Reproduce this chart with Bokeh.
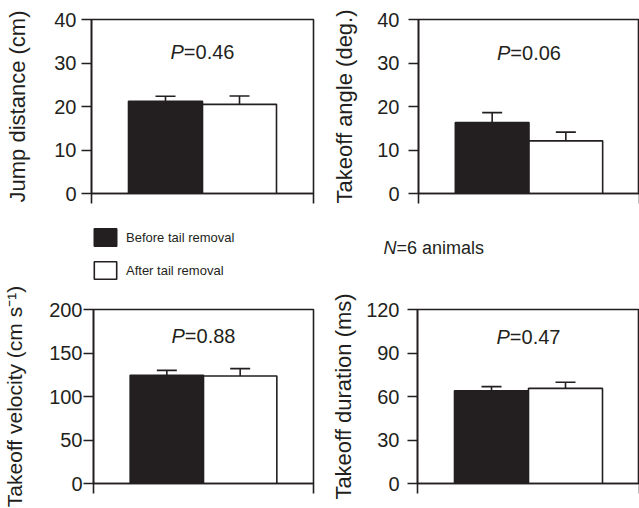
from bokeh.plotting import figure
from bokeh.models import (Range1d, FixedTicker, Whisker, TeeHead, ColumnDataSource,
                          Label, Legend, LegendItem)
from bokeh.layouts import column, row
from bokeh.embed import file_html
from bokeh.resources import INLINE

# ---------------- data ----------------
groups = ["Before tail removal", "After tail removal"]
group_pos = [1, 2]
bar_colors = ["#231f20", "#ffffff"]

y_labels = ["Jump distance (cm)", "Takeoff angle (deg.)",
            "Takeoff velocity (cm s\u207b\u00b9)", "Takeoff duration (ms)"]
y_max = [40, 40, 200, 120]
y_ticks = [[0, 10, 20, 30, 40], [0, 10, 20, 30, 40],
           [0, 50, 100, 150, 200], [0, 30, 60, 90, 120]]
mean_before = [21.2, 16.3, 124.3, 64.0]
mean_after = [20.5, 12.1, 123.5, 65.6]
sem_before = [1.15, 2.3, 5.7, 2.8]
sem_after = [1.9, 2.0, 8.5, 4.2]
p_values = ["0.46", "0.06", "0.88", "0.47"]
n_animals = 6

INK = "#231f20"
FONT = "Liberation Sans"
LW = 1.6


def make_panel(i, width, height, mb_left, mb_right, mb_top, mb_bottom, p_frac,
               tick_standoff, label_standoff, label_size="22px"):
    p = figure(width=width, height=height, output_backend="svg", toolbar_location=None,
               title=None,
               x_range=Range1d(0, 3), y_range=Range1d(0, y_max[i]),
               min_border_left=mb_left, min_border_right=mb_right,
               min_border_top=mb_top, min_border_bottom=mb_bottom)
    p.grid.visible = False
    p.outline_line_color = INK
    p.outline_line_width = LW
    p.outline_line_alpha = 1
    p.background_fill_color = "white"
    p.border_fill_color = "white"

    ya = p.yaxis[0]
    ya.ticker = FixedTicker(ticks=y_ticks[i])
    ya.minor_tick_line_color = None
    ya.major_tick_out = 10
    ya.major_tick_in = 0
    ya.major_tick_line_width = LW
    ya.major_tick_line_color = INK
    ya.axis_line_width = LW
    ya.axis_line_color = INK
    ya.major_label_text_font = FONT
    ya.major_label_text_font_size = "20px"
    ya.major_label_text_color = INK
    ya.major_label_standoff = tick_standoff
    ya.axis_label = y_labels[i]
    ya.axis_label_text_font = FONT
    ya.axis_label_text_font_size = label_size
    ya.axis_label_text_font_style = "normal"
    ya.axis_label_text_color = INK
    ya.axis_label_standoff = label_standoff

    # x axis: no labels, only end ticks (as minor ticks) hanging below
    xa = p.xaxis[0]
    xa.ticker = FixedTicker(ticks=[], minor_ticks=[0, 3])
    xa.major_tick_line_color = None
    xa.minor_tick_out = 10
    xa.minor_tick_in = 0
    xa.minor_tick_line_width = LW
    xa.minor_tick_line_color = INK
    xa.axis_line_width = LW
    xa.axis_line_color = INK

    means = [mean_before[i], mean_after[i]]
    sems = [sem_before[i], sem_after[i]]
    for k in range(2):
        p.vbar(x=[group_pos[k]], top=[means[k]], bottom=0, width=1.0,
               fill_color=bar_colors[k], line_color=INK, line_width=LW)

    src = ColumnDataSource(dict(x=group_pos, lower=means,
                                upper=[m + s for m, s in zip(means, sems)]))
    w = Whisker(source=src, base="x", lower="lower", upper="upper", dimension="height",
                line_color=INK, line_width=LW, level="annotation",
                upper_head=TeeHead(size=20, line_color=INK, line_width=LW),
                lower_head=None)
    p.add_layout(w)

    # P value text: italic "P" followed by "=value"
    cx = (group_pos[0] + group_pos[1]) / 2
    cy = y_max[i] * p_frac
    rest = "=" + p_values[i]
    fs = 20
    total = 0.667 * fs + fs * 0.556 * len(rest) - fs * (0.556 - 0.278) * rest.count(".") + fs * (0.584 - 0.556)
    x_start = -total / 2
    p.add_layout(Label(x=cx, y=cy, text="P", x_offset=x_start, text_font=FONT,
                       text_font_size=f"{fs}px", text_font_style="italic",
                       text_color=INK, text_baseline="middle", text_align="left"))
    p.add_layout(Label(x=cx, y=cy, text=rest, x_offset=x_start + 0.667 * fs, text_font=FONT,
                       text_font_size=f"{fs}px", text_color=INK,
                       text_baseline="middle", text_align="left"))
    return p


p_tl = make_panel(0, 320, 215, 91, 7, 19, 22, 0.8125, 5, 21)
p_tr = make_panel(1, 319, 215, 98, 0, 19, 22, 0.805, 9, 17)
p_bl = make_panel(2, 320, 223, 90, 7, 24, 25, 0.85, 1, 20, label_size="21px")
p_br = make_panel(3, 319, 223, 97, 0, 24, 25, 0.84, 8, 7)

# middle strip: legend and the N = 6 animals note
p_mid = figure(width=639, height=70, output_backend="svg", toolbar_location=None,
               title=None, x_range=Range1d(0, 639), y_range=Range1d(285, 215),
               x_axis_location=None, y_axis_location=None,
               min_border_left=0, min_border_right=0, min_border_top=0, min_border_bottom=0)
p_mid.grid.visible = False
p_mid.outline_line_color = None
p_mid.background_fill_color = "white"
p_mid.border_fill_color = "white"

# legend swatch renderers (no drawable position; only their legend keys are seen)
swatches = [p_mid.vbar(x=[float("nan")], top=[float("nan")], bottom=[0], width=1,
                       fill_color=bar_colors[k], line_color=INK, line_width=LW)
            for k in range(2)]
legend = Legend(items=[LegendItem(label=g, renderers=[r]) for g, r in zip(groups, swatches)],
                location=(91, 4), orientation="vertical",
                glyph_width=28, glyph_height=22, spacing=11, label_standoff=7,
                label_text_font=FONT, label_text_font_size="13px", label_text_color=INK,
                label_height=22, padding=0, margin=0,
                border_line_alpha=0, background_fill_alpha=0)
p_mid.add_layout(legend, "center")

n_x, n_y = 383, 247
p_mid.add_layout(Label(x=n_x, y=n_y, text="N", text_font=FONT, text_font_size="18px",
                       text_font_style="italic", text_color=INK,
                       text_baseline="middle", text_align="left"))
p_mid.add_layout(Label(x=n_x, y=n_y, text=f"={n_animals} animals", x_offset=13,
                       text_font=FONT, text_font_size="18px", text_color=INK,
                       text_baseline="middle", text_align="left"))

layout = column(row(p_tl, p_tr), p_mid, row(p_bl, p_br))
open("out.html", "w").write(file_html(layout, INLINE))
